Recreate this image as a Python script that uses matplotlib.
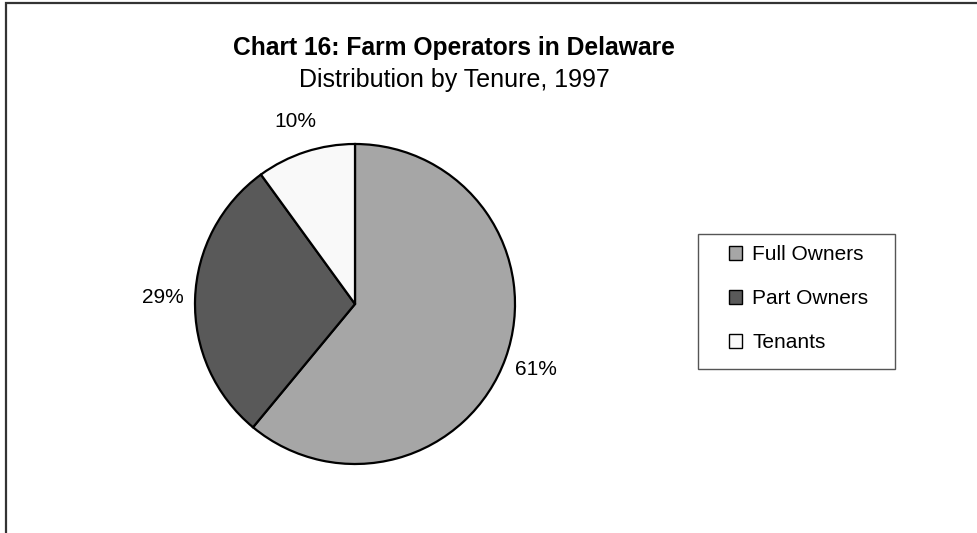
import matplotlib.pyplot as plt
from matplotlib.patches import Rectangle

plt.rcParams['font.family'] = ['Liberation Sans', 'DejaVu Sans']

labels = ["Full Owners", "Part Owners", "Tenants"]
shares = [61, 29, 10]
colors = ["#A6A6A6", "#595959", "#F9F9F9"]

W, H = 977, 533
fig = plt.figure(figsize=(W / 100, H / 100), dpi=100)

# outer frame (runs off the right and bottom edges)
fig.patches.append(Rectangle((6 / W, -0.1), 1.2, (H - 3) / H + 0.1,
                             transform=fig.transFigure, fill=False,
                             edgecolor="#333333", linewidth=1.6))

cx, cy, r = 355, 304, 160
ax = fig.add_axes([(cx - r) / W, (H - cy - r) / H, 2 * r / W, 2 * r / H])
wedges, _, pcts = ax.pie(shares, colors=colors, startangle=90, counterclock=False,
                         autopct="%d%%", pctdistance=1.2,
                         wedgeprops=dict(edgecolor="black", linewidth=1.6))
for t in pcts:
    t.set_fontsize(15)
ax.set_xlim(-1, 1)
ax.set_ylim(-1, 1)
ax.set_aspect("equal")
ax.axis("off")

fig.text(454 / W, 1 - 48 / H, "Chart 16: Farm Operators in Delaware",
         ha="center", va="center", fontsize=17.7, fontweight="bold")
fig.text(454 / W, 1 - 80 / H, "Distribution by Tenure, 1997",
         ha="center", va="center", fontsize=18)

# legend frame
fig.patches.append(Rectangle((698 / W, 1 - 369 / H), 197 / W, 135 / H,
                             transform=fig.transFigure, fill=False,
                             edgecolor="#555555", linewidth=1.0))
leg = fig.legend(wedges, labels, loc="center left",
                 bbox_to_anchor=(729 / W, 1 - 299 / H),
                 fontsize=15, frameon=False,
                 handlelength=0.62, handleheight=0.62,
                 handletextpad=0.5, labelspacing=1.2, borderpad=0,
                 borderaxespad=0)
for h in leg.legend_handles:
    h.set_linewidth(1.0)

fig.savefig("out.png", dpi=100)
